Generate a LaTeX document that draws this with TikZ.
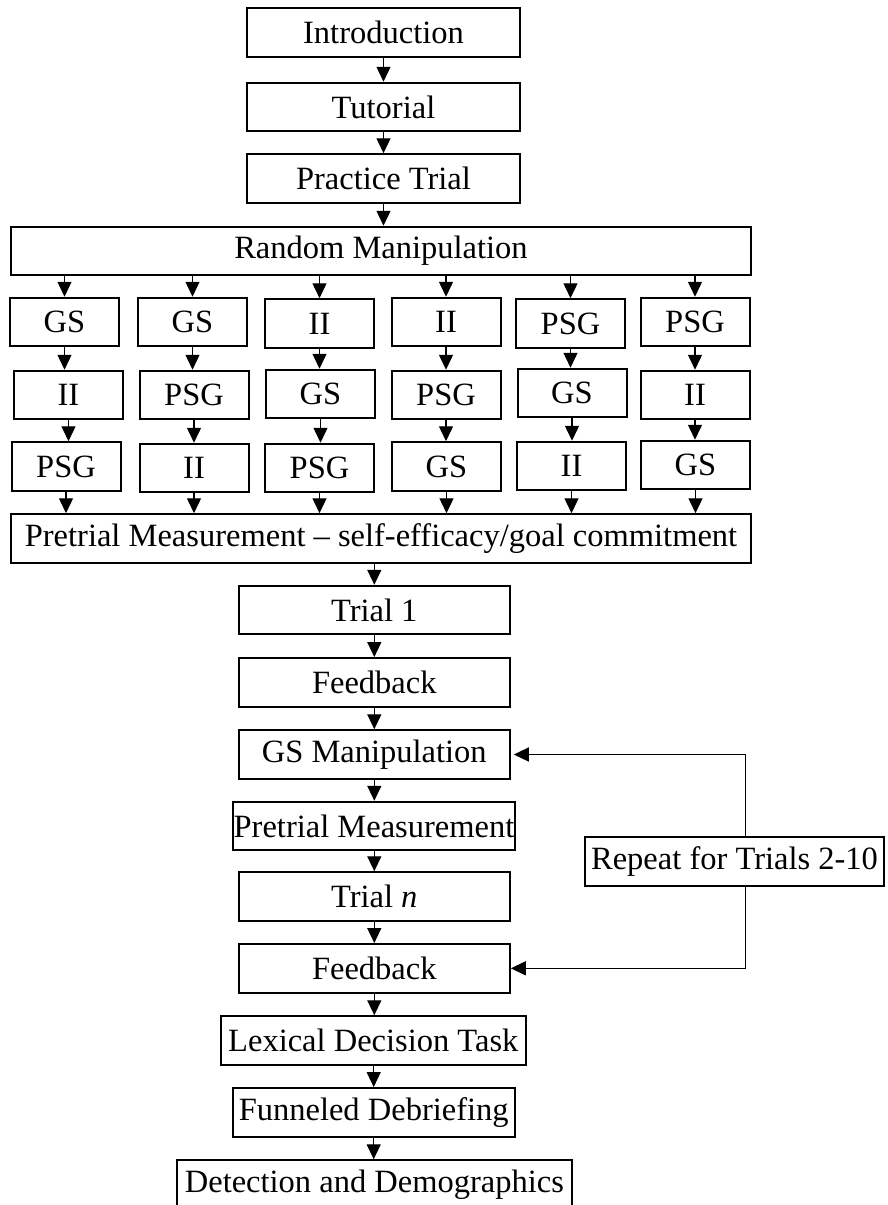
\documentclass[tikz,border=0pt]{standalone}
\usepackage{fontspec}
\setmainfont{Liberation Serif}
\usetikzlibrary{arrows.meta}
\begin{document}
\begin{tikzpicture}[x=1pt,y=-1pt,
  box/.style={draw, line width=2pt, inner sep=0pt, minimum height=48.5pt,
    font=\fontsize{32.5}{38}\selectfont},
  mainbox/.style={box, minimum width=271pt},
  topbox/.style={box, minimum width=273pt},
  widebox/.style={box, minimum width=740pt},
  smallbox/.style={box, minimum width=109pt},
  arr/.style={line width=1.4pt, -{Triangle[length=15pt,width=14pt]}},
  loopline/.style={line width=1.4pt}
]
\useasboundingbox (0,0) rectangle (887,1205);
% top
\node[topbox] (intro) at (383.5,32.7) {Introduction};
\node[topbox] (tut) at (383.5,107) {Tutorial};
\node[topbox] (prac) at (383.5,178.5) {Practice Trial};
\node[widebox] (rand) at (381,251) {Random Manipulation};
% rows
\node[smallbox] (a1) at (64.5,322) {GS};
\node[smallbox] (b1) at (192.5,322) {GS};
\node[smallbox] (c1) at (319.5,323.5) {II};
\node[smallbox] (d1) at (446,322) {II};
\node[smallbox] (e1) at (570.5,323.5) {PSG};
\node[smallbox] (f1) at (695,322) {PSG};
\node[smallbox] (a2) at (68.5,395) {II};
\node[smallbox] (b2) at (194,395) {PSG};
\node[smallbox] (c2) at (320.5,394) {GS};
\node[smallbox] (d2) at (446,395) {PSG};
\node[smallbox] (e2) at (572,393) {GS};
\node[smallbox] (f2) at (695,395) {II};
\node[smallbox] (a3) at (66,466.5) {PSG};
\node[smallbox] (b3) at (194,468) {II};
\node[smallbox] (c3) at (319.5,468) {PSG};
\node[smallbox] (d3) at (446.5,466.5) {GS};
\node[smallbox] (e3) at (571.5,466) {II};
\node[smallbox] (f3) at (695.5,465) {GS};
\node[widebox] (pm) at (381,538.5) {Pretrial Measurement -- self-efficacy/goal commitment};
% main column
\node[mainbox] (t1) at (374.3,610) {Trial 1};
\node[mainbox] (fb1) at (374.3,682.3) {Feedback};
\node[mainbox] (gs) at (374.3,754.5) {GS Manipulation};
\node[box, minimum width=282pt] (pm2) at (374,826) {Pretrial Measurement};
\node[mainbox] (tn) at (374.3,896.5) {Trial \textit{n}};
\node[mainbox] (fb2) at (374.3,968.3) {Feedback};
\node[box, minimum width=305.5pt] (lex) at (373.3,1040.5) {Lexical Decision Task};
\node[box, minimum width=282pt] (fun) at (373.7,1112.3) {Funneled Debriefing};
\node[box, minimum width=395pt] (det) at (374.4,1184.5) {Detection and Demographics};
\node[box, minimum width=299pt] (rep) at (734.5,861.5) {Repeat for Trials 2-10};
% arrows top
\draw[arr] (intro.south) -- (tut.north);
\draw[arr] (tut.south) -- (prac.north);
\draw[arr] (prac.south) -- (prac.south |- rand.north);
\foreach \n in {a,b,c,d,e,f}{
  \draw[arr] (\n1.north |- rand.south) -- (\n1.north);
  \draw[arr] (\n1.south) -- (\n1.south |- \n2.north);
  \draw[arr] (\n2.south) -- (\n2.south |- \n3.north);
  \draw[arr] (\n3.south) -- (\n3.south |- pm.north);
}
\draw[arr] (t1.north |- pm.south) -- (t1.north);
\draw[arr] (t1.south) -- (fb1.north);
\draw[arr] (fb1.south) -- (gs.north);
\draw[arr] (gs.south) -- (gs.south |- pm2.north);
\draw[arr] (tn.north |- pm2.south) -- (tn.north);
\draw[arr] (tn.south) -- (fb2.north);
\draw[arr] (fb2.south) -- (fb2.south |- lex.north);
\draw[arr] (fun.north |- lex.south) -- (fun.north);
\draw[arr] (fun.south) -- (fun.south |- det.north);
% loop
\coordinate (lt) at (745.5,754.5);
\coordinate (lb) at (745.5,968.3);
\draw[loopline] (rep.north -| lt) -- (lt);
\draw[arr] (lt) -- ([xshift=3pt]gs.east);
\draw[loopline] (rep.south -| lb) -- (lb);
\draw[arr] (lb) -- (fb2.east);
\end{tikzpicture}
\end{document}
